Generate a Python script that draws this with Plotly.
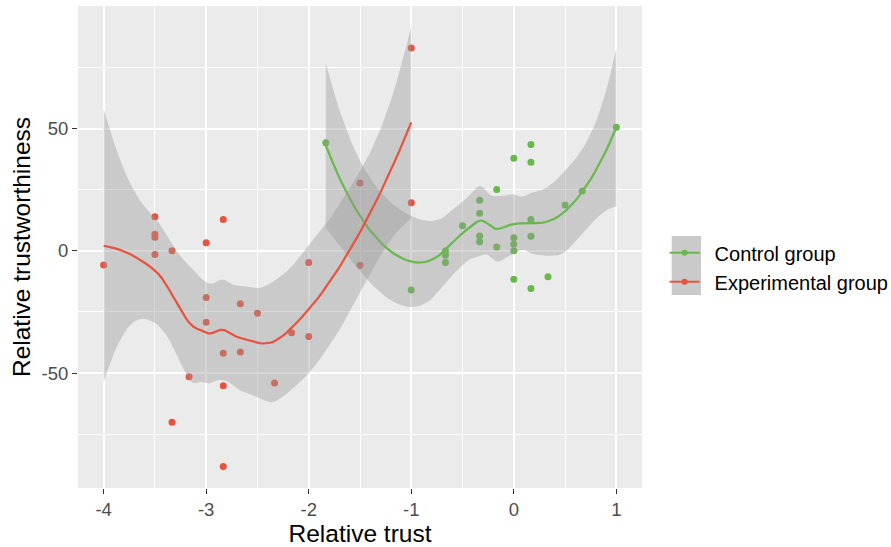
import math
import numpy as np
import plotly.graph_objects as go

# ---- data -------------------------------------------------------------
group_names = ["Control group", "Experimental group"]
group_colors = ["#66B94A", "#E8533F"]

ctrl_x = [-11/6, -1, -2/3, -2/3, -2/3, -0.5, -1/3, -1/3, -1/3, -1/3,
          -1/6, -1/6, 0, 0, 0, 0, 0, 1/6, 1/6, 1/6, 1/6, 1/6,
          1/3, 0.5, 2/3, 1]
ctrl_y = [44.2, -16.0, -0.1, -1.8, -4.8, 10.2, 20.7, 15.4, 6.0, 3.7,
          25.1, 1.6, 37.8, 5.3, 2.7, 0.0, -11.6, 43.5, 36.2, 12.8, 5.9, -15.4,
          -10.6, 18.7, 24.4, 50.5]

exp_x = [-4, -3.5, -3.5, -3.5, -3.5, -10/3, -10/3, -19/6, -3, -3, -3,
         -17/6, -17/6, -17/6, -17/6, -8/3, -8/3, -2.5, -7/3, -13/6,
         -2, -2, -1.5, -1.5, -1, -1]
exp_y = [-5.8, 13.9, 6.8, 5.5, -1.5, 0.0, -70.1, -51.5, 3.3, -19.1, -29.2,
         12.8, -41.9, -55.2, -88.2, -21.7, -41.4, -25.5, -54.1, -33.5,
         -4.8, -35.0, 27.7, -5.9, 82.9, 19.6]

x_ticks = [-4, -3, -2, -1, 0, 1]
x_labels = ["-4", "-3", "-2", "-1", "0", "1"]
x_minor = [-3.5, -2.5, -1.5, -0.5, 0.5]
y_ticks = [-50, 0, 50]
y_labels = ["-50", "0", "50"]
y_minor = [-75, -25, 25, 75]


# ---- Student t quantile (no scipy) --------------------------------------
def _betacf(a, b, x):
    tiny = 1e-30
    qab, qap, qam = a + b, a + 1.0, a - 1.0
    c, d = 1.0, 1.0 - qab * x / qap
    d = 1.0 / (d if abs(d) > tiny else tiny)
    h = d
    for m in range(1, 300):
        m2 = 2 * m
        aa = m * (b - m) * x / ((qam + m2) * (a + m2))
        d = 1.0 + aa * d
        d = 1.0 / (d if abs(d) > tiny else tiny)
        c = 1.0 + aa / c
        c = c if abs(c) > tiny else tiny
        h *= d * c
        aa = -(a + m) * (qab + m) * x / ((a + m2) * (qap + m2))
        d = 1.0 + aa * d
        d = 1.0 / (d if abs(d) > tiny else tiny)
        c = 1.0 + aa / c
        c = c if abs(c) > tiny else tiny
        de = d * c
        h *= de
        if abs(de - 1.0) < 1e-12:
            break
    return h


def _betainc(a, b, x):
    if x <= 0:
        return 0.0
    if x >= 1:
        return 1.0
    bt = math.exp(math.lgamma(a + b) - math.lgamma(a) - math.lgamma(b)
                  + a * math.log(x) + b * math.log(1 - x))
    if x < (a + 1) / (a + b + 2):
        return bt * _betacf(a, b, x) / a
    return 1.0 - bt * _betacf(b, a, 1 - x) / b


def t_quantile(p, df):
    def cdf(t):
        tail = 0.5 * _betainc(df / 2, 0.5, df / (df + t * t))
        return 1 - tail if t > 0 else tail
    lo, hi = 0.0, 50.0
    for _ in range(100):
        mid = 0.5 * (lo + hi)
        if cdf(mid) < p:
            lo = mid
        else:
            hi = mid
    return 0.5 * (lo + hi)


# ---- loess (degree 2, span 0.75) on a k-d tree surface -----------------
def loess_band(x, y, span=0.75, cell=0.2, n_out=80, level=0.95):
    x = np.asarray(x, float)
    y = np.asarray(y, float)
    n = len(x)
    q = int(math.floor(n * span))

    def local_rows(x0):
        d = np.abs(x - x0)
        h = np.sort(d)[q - 1]
        u = np.clip(d / h, 0, 1)
        w = (1 - u ** 3) ** 3
        X = np.column_stack([np.ones(n), x - x0, (x - x0) ** 2])
        XtW = X.T * w
        B = np.linalg.pinv(XtW @ X) @ XtW
        return B[0], B[1]

    # cell vertices
    xs = np.sort(x)
    fc = int(math.floor(n * span * cell))
    mu = 0.005 * (xs[-1] - xs[0])
    verts = {xs[0] - mu, xs[-1] + mu}

    def split(l, u, vlo, vhi):
        if u - l + 1 <= fc:
            return
        m = (l + u) // 2
        off = 0
        while l <= m + off < u:
            if xs[m + off] == xs[m + off + 1]:
                off = -off
                if off >= 0:
                    off += 1
            else:
                m = m + off
                break
        t = xs[m]
        if t == vlo or t == vhi:
            return
        verts.add(t)
        split(l, m, vlo, t)
        split(m + 1, u, t, vhi)

    split(0, n - 1, xs[0] - mu, xs[-1] + mu)
    V = np.array(sorted(verts))
    R0, R1 = zip(*[local_rows(v) for v in V])
    R0, R1 = np.array(R0), np.array(R1)

    def interp_row(z):
        k = int(np.clip(np.searchsorted(V, z) - 1, 0, len(V) - 2))
        h = V[k + 1] - V[k]
        s = (z - V[k]) / h
        p0 = (1 - s) ** 2 * (1 + 2 * s)
        p1 = s ** 2 * (3 - 2 * s)
        s0 = s * (1 - s) ** 2
        s1 = -s ** 2 * (1 - s)
        return p0 * R0[k] + p1 * R0[k + 1] + h * (s0 * R1[k] + s1 * R1[k + 1])

    L = np.array([interp_row(v) for v in x])
    resid = y - L @ y
    IL = np.eye(n) - L
    M = IL.T @ IL
    d1 = np.trace(M)
    d2 = np.trace(M @ M)
    sigma = math.sqrt(float(resid @ resid) / d1)
    tq = t_quantile(0.5 + level / 2, d1 * d1 / d2)

    grid = np.linspace(x.min(), x.max(), n_out)
    rows = np.array([interp_row(v) for v in grid])
    fit = rows @ y
    se = sigma * np.sqrt((rows ** 2).sum(axis=1))
    return grid, fit, fit - tq * se, fit + tq * se


# ---- figure ------------------------------------------------------------
fig = go.Figure()

groups = [(ctrl_x, ctrl_y), (exp_x, exp_y)]

for (gx, gy), col in zip(groups, group_colors):
    fig.add_trace(go.Scatter(x=gx, y=gy, mode="markers",
                             marker=dict(size=7, color=col),
                             showlegend=False, hoverinfo="skip"))

for (gx, gy), col in zip(groups, group_colors):
    grid, fit, lo, hi = loess_band(gx, gy)
    fig.add_trace(go.Scatter(x=np.concatenate([grid, grid[::-1]]),
                             y=np.concatenate([hi, lo[::-1]]),
                             mode="lines", line=dict(width=0),
                             fill="toself", fillcolor="rgba(153,153,153,0.4)",
                             showlegend=False, hoverinfo="skip"))
    fig.add_trace(go.Scatter(x=grid, y=fit, mode="lines",
                             line=dict(color=col, width=2.2),
                             showlegend=False))

# legend entries; the en space keeps the label clear of the key box
for name, col in zip(group_names, group_colors):
    fig.add_trace(go.Scatter(x=[None], y=[None], mode="lines+markers",
                             name="\u2002" + name,
                             line=dict(color=col, width=2.2),
                             marker=dict(color=col, size=6)))

# grey legend key backdrop
fig.add_shape(type="rect", xref="paper", yref="paper",
              x0=1.0527, x1=1.1046, y0=0.4004, y1=0.5228,
              fillcolor="#CACACA", line=dict(width=0), layer="above")

axis_common = dict(
    showgrid=True, gridcolor="white", gridwidth=1.5,
    zeroline=False, showline=False,
    ticks="outside", ticklen=5, tickwidth=1.3, tickcolor="#333333",
    tickfont=dict(size=18.5, color="#4D4D4D"),
)

fig.update_layout(
    width=891, height=547,
    margin=dict(l=78, r=249, t=6, b=59, autoexpand=False),
    paper_bgcolor="white", plot_bgcolor="#EBEBEB",
    font=dict(family="Liberation Sans, Arial, sans-serif", color="black"),
    xaxis=dict(range=[-4.25, 1.25], tickmode="array",
               tickvals=x_ticks, ticktext=x_labels,
               minor=dict(tickvals=x_minor, showgrid=True,
                          gridcolor="white", gridwidth=0.8, ticks=""),
               title=dict(text="Relative trust", font=dict(size=24.5),
                          standoff=11),
               **axis_common),
    yaxis=dict(range=[-97.0, 100.1], tickmode="array",
               tickvals=y_ticks, ticktext=y_labels,
               minor=dict(tickvals=y_minor, showgrid=True,
                          gridcolor="white", gridwidth=0.8, ticks=""),
               title=dict(text="Relative trustworthiness", font=dict(size=24.5),
                          standoff=3),
               **axis_common),
    legend=dict(x=1.04, xanchor="left", y=0.458, yanchor="middle",
                bgcolor="rgba(0,0,0,0)", font=dict(size=20, color="black"),
                itemwidth=30),
)

fig.write_html("out.html")
